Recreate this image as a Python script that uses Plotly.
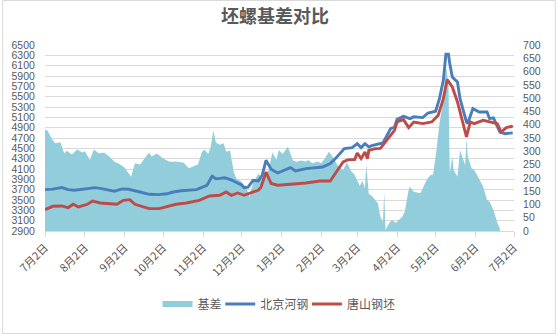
import plotly.graph_objects as go

# 基差 (right axis, 元/吨)
basis_dates = [
    "2020-07-02", "2020-07-04", "2020-07-08", "2020-07-10", "2020-07-14", "2020-07-17",
    "2020-07-19", "2020-07-23", "2020-07-27", "2020-07-31", "2020-08-02", "2020-08-06",
    "2020-08-09", "2020-08-13", "2020-08-17", "2020-08-21", "2020-08-25", "2020-08-29",
    "2020-09-02", "2020-09-07", "2020-09-10", "2020-09-14", "2020-09-17", "2020-09-21",
    "2020-09-23", "2020-09-27", "2020-10-02", "2020-10-07", "2020-10-12", "2020-10-18",
    "2020-10-22", "2020-10-26", "2020-10-29", "2020-11-01", "2020-11-03", "2020-11-06",
    "2020-11-08", "2020-11-10", "2020-11-12", "2020-11-15", "2020-11-18", "2020-11-20",
    "2020-11-23", "2020-11-26", "2020-11-28", "2020-12-02", "2020-12-06", "2020-12-08",
    "2020-12-11", "2020-12-15", "2020-12-19", "2020-12-23", "2020-12-26", "2020-12-29",
    "2020-12-31", "2021-01-03", "2021-01-07", "2021-01-11", "2021-01-14", "2021-01-17",
    "2021-01-21", "2021-01-23", "2021-01-26", "2021-01-30", "2021-02-02", "2021-02-05",
    "2021-02-08", "2021-02-12", "2021-02-15", "2021-02-19", "2021-02-22", "2021-02-25",
    "2021-02-28", "2021-03-04", "2021-03-06", "2021-03-08", "2021-03-09", "2021-03-11",
    "2021-03-14", "2021-03-18", "2021-03-20", "2021-03-22", "2021-03-23", "2021-03-24",
    "2021-03-27", "2021-03-29", "2021-04-01", "2021-04-02", "2021-04-06", "2021-04-08",
    "2021-04-11", "2021-04-12", "2021-04-15", "2021-04-20", "2021-04-22", "2021-04-25",
    "2021-04-28", "2021-04-30", "2021-05-03", "2021-05-05", "2021-05-08", "2021-05-10",
    "2021-05-12", "2021-05-13", "2021-05-15", "2021-05-16", "2021-05-19", "2021-05-21",
    "2021-05-22", "2021-05-25", "2021-05-26", "2021-05-27", "2021-05-30", "2021-06-01",
    "2021-06-04", "2021-06-08", "2021-06-11", "2021-06-13", "2021-06-16", "2021-06-19",
    "2021-06-21",
]
basis = [
    383, 377, 342, 330, 334, 292,
    302, 288, 307, 295, 300, 267,
    307, 292, 295, 280, 261, 252,
    238, 204, 255, 250, 270, 295,
    280, 292, 273, 261, 262, 257,
    236, 245, 250, 295, 307, 290,
    317, 378, 333, 325, 330, 298,
    303, 220, 198, 185, 158, 130,
    182, 215, 195, 230, 295, 267,
    305, 290, 317, 265, 261, 265,
    262, 267, 255, 262, 255, 275,
    298, 270, 245, 230, 258, 228,
    211, 169, 189, 161, 248, 140,
    129, 104, 54, 35, 145, 5,
    30, 41, 30, 35, 54, 73,
    154, 167, 148, 142, 161, 192,
    211, 212, 317, 405, 493, 620,
    556, 217, 280, 230, 204, 305,
    290, 248, 349, 280, 236, 230,
    204, 167, 117, 110, 79, 31,
    10,
]

# 北京河钢 (left axis)
bj_dates = [
    "2020-07-02", "2020-07-08", "2020-07-15", "2020-07-20", "2020-07-25", "2020-08-03",
    "2020-08-10", "2020-08-15", "2020-08-25", "2020-08-31", "2020-09-05", "2020-09-14",
    "2020-09-21", "2020-09-28", "2020-10-05", "2020-10-09", "2020-10-16", "2020-10-28",
    "2020-11-05", "2020-11-09", "2020-11-12", "2020-11-19", "2020-11-24", "2020-12-02",
    "2020-12-04", "2020-12-07", "2020-12-11", "2020-12-15", "2020-12-18", "2020-12-21",
    "2020-12-25", "2020-12-30", "2021-01-09", "2021-01-13", "2021-01-21", "2021-02-03",
    "2021-02-09", "2021-02-13", "2021-02-20", "2021-02-26", "2021-03-02", "2021-03-05",
    "2021-03-08", "2021-03-11", "2021-03-14", "2021-03-22", "2021-03-24", "2021-03-28",
    "2021-03-31", "2021-04-02", "2021-04-07", "2021-04-12", "2021-04-15", "2021-04-22",
    "2021-04-26", "2021-05-02", "2021-05-05", "2021-05-08", "2021-05-10", "2021-05-12",
    "2021-05-13", "2021-05-15", "2021-05-17", "2021-05-19", "2021-05-21", "2021-05-26",
    "2021-05-27", "2021-05-31", "2021-06-05", "2021-06-11", "2021-06-13", "2021-06-16",
    "2021-06-21", "2021-06-25", "2021-07-01",
]
bj = [
    3700, 3710, 3740, 3700, 3690, 3720,
    3740, 3720, 3670, 3715, 3707, 3655,
    3610, 3604, 3620, 3650, 3680, 3700,
    3785, 3960, 3910, 3930, 3890, 3790,
    3740, 3750, 3880, 3870, 3978, 4268,
    4094, 4023, 4127, 4062, 4107, 4139,
    4204, 4301, 4494, 4514, 4591, 4514,
    4591, 4530, 4559, 4604, 4688, 4881,
    4913, 5060, 5120, 5076, 5110, 5095,
    5184, 5217, 5462, 5817, 6320, 6320,
    6140, 5881, 5830, 5784, 5462, 5010,
    4980, 5269, 5204, 5204, 5076, 5090,
    4816, 4784, 4800,
]

# 唐山钢坯 (left axis)
ts_dates = [
    "2020-07-02", "2020-07-08", "2020-07-15", "2020-07-20", "2020-07-24", "2020-07-28",
    "2020-08-04", "2020-08-08", "2020-08-14", "2020-08-27", "2020-09-01", "2020-09-06",
    "2020-09-10", "2020-09-16", "2020-09-21", "2020-09-29", "2020-10-05", "2020-10-12",
    "2020-10-20", "2020-10-30", "2020-11-07", "2020-11-15", "2020-11-20", "2020-11-24",
    "2020-11-29", "2020-12-04", "2020-12-11", "2020-12-15", "2020-12-17", "2020-12-21",
    "2020-12-25", "2020-12-30", "2021-01-09", "2021-01-21", "2021-02-01", "2021-02-09",
    "2021-02-12", "2021-02-19", "2021-02-23", "2021-02-28", "2021-03-02", "2021-03-05",
    "2021-03-08", "2021-03-10", "2021-03-11", "2021-03-16", "2021-03-20", "2021-03-25",
    "2021-03-31", "2021-04-02", "2021-04-07", "2021-04-11", "2021-04-15", "2021-04-22",
    "2021-04-29", "2021-05-04", "2021-05-08", "2021-05-11", "2021-05-15", "2021-05-19",
    "2021-05-22", "2021-05-26", "2021-05-29", "2021-06-01", "2021-06-08", "2021-06-13",
    "2021-06-19", "2021-06-22", "2021-06-26", "2021-06-30", "2021-07-01",
]
ts = [
    3314, 3378, 3385, 3353, 3417, 3365,
    3417, 3481, 3442, 3417, 3494, 3507,
    3417, 3378, 3333, 3333, 3378, 3417,
    3442, 3494, 3578, 3591, 3655, 3591,
    3636, 3591, 3655, 3688, 3740, 4042,
    3820, 3785, 3804, 3829, 3868, 3868,
    3978, 4236, 4281, 4281, 4410, 4301,
    4430, 4301, 4462, 4494, 4500, 4655,
    4849, 5010, 5056, 4901, 5010, 4978,
    5010, 5139, 5462, 5830, 5688, 5397,
    5107, 4720, 5010, 4978, 5043, 5010,
    4978, 4816, 4901, 4926, 4910,
]

tick_dates = [
    "2020-07-02", "2020-08-02", "2020-09-02", "2020-10-02", "2020-11-02", "2020-12-02",
    "2021-01-02", "2021-02-02", "2021-03-02", "2021-04-02", "2021-05-02", "2021-06-02",
    "2021-07-02",
]
tick_text = ["7月2日", "8月2日", "9月2日", "10月2日", "11月2日", "12月2日",
             "1月2日", "2月2日", "3月2日", "4月2日", "5月2日", "6月2日", "7月2日"]

TEXT = "#595959"
GRID = "#D9D9D9"
NUM_FONT = "Liberation Sans, Noto Sans CJK SC, sans-serif"
CJK_FONT = "Noto Sans CJK SC, sans-serif"

L, R, T, B = 43, 42, 45, 103
W, H = 556, 334
pw, ph = W - L - R, H - T - B


def px_x(px):
    return (px - L) / pw


def px_y(py):
    return (T + ph - py) / ph


fig = go.Figure()
fig.add_trace(go.Scatter(
    x=basis_dates, y=basis, name="基差", mode="none",
    fill="tozeroy", fillcolor="#92CDDC", yaxis="y", legend="legend",
))
fig.add_trace(go.Scatter(
    x=bj_dates, y=bj, name="北京河钢", mode="lines",
    line=dict(color="#4A7EBB", width=2.9), yaxis="y2", legend="legend2",
))
fig.add_trace(go.Scatter(
    x=ts_dates, y=ts, name="唐山钢坯", mode="lines",
    line=dict(color="#BE4B48", width=2.9), yaxis="y2", legend="legend3",
))

legend_style = dict(
    orientation="h", xanchor="left", yanchor="middle", y=px_y(304),
    font=dict(family=CJK_FONT, size=12, color=TEXT),
    itemwidth=30, bgcolor="rgba(0,0,0,0)", borderwidth=0,
)

fig.update_layout(
    width=W, height=H,
    margin=dict(l=L, r=R, t=T, b=B, pad=0),
    paper_bgcolor="white", plot_bgcolor="white",
    font=dict(family=NUM_FONT, size=11, color=TEXT),
    title=dict(
        text="<b>坯螺基差对比</b>", x=px_x(274), xref="paper", xanchor="center",
        y=1 - 17 / H, yanchor="middle",
        font=dict(family=CJK_FONT, size=18, color=TEXT),
    ),
    showlegend=True,
    legend=dict(x=px_x(156), **legend_style),
    legend2=dict(x=px_x(219), **legend_style),
    legend3=dict(x=px_x(306), **legend_style),
    xaxis=dict(
        type="date", range=["2020-07-02", "2021-07-02"],
        tickvals=tick_dates, ticktext=tick_text, tickangle=-45,
        ticks="outside", ticklen=5, tickcolor=GRID,
        showline=True, linecolor=GRID, linewidth=1,
        showgrid=False, zeroline=False,
        tickfont=dict(family=CJK_FONT, size=11, color=TEXT),
    ),
    yaxis=dict(
        side="right", range=[0, 700], dtick=50, tick0=0,
        showgrid=False, zeroline=False, showline=False,
        ticks="outside", ticklen=6, tickcolor="rgba(0,0,0,0)",
        tickfont=dict(size=10.5, color=TEXT),
    ),
    yaxis2=dict(
        overlaying="y", side="left", range=[2900, 6500], dtick=200, tick0=2900,
        showgrid=True, gridcolor=GRID, gridwidth=1, zeroline=False, showline=False,
        ticks="outside", ticklen=7, tickcolor="rgba(0,0,0,0)",
        tickfont=dict(size=10.5, color=TEXT),
    ),
    shapes=[dict(
        type="rect", xref="paper", yref="paper",
        x0=(0.5 - L) / pw, x1=(W - 0.5 - L) / pw,
        y0=-(B - 0.5) / ph, y1=1 + (T - 0.5) / ph,
        line=dict(color=GRID, width=1), fillcolor="rgba(0,0,0,0)", layer="below",
    )],
)

fig.write_html("out.html")
